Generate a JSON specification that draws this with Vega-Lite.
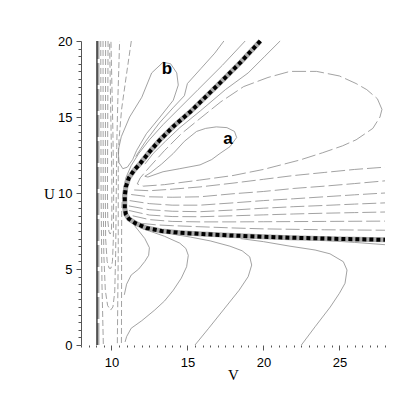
{
"$schema": "https://vega.github.io/schema/vega-lite/v6.json",
"width": 304, "height": 304,
"autosize": {"type": "none"},
"padding": {"left": 81, "top": 41, "right": 22, "bottom": 62},
"background": "white",
"config": {"view": {"stroke": null}},
"datasets": {
"vert": [{"id":"K","V":9.05,"U":0},{"id":"K","V":9.05,"U":20}],
"band": [{"id":"B","V":9.13,"U":0},{"id":"B","V":9.13,"U":20}],
"dash": [
{"id":"D1","V":9.3,"U":20},{"id":"D1","V":9.32,"U":10},{"id":"D1","V":9.38,"U":4},{"id":"D1","V":9.47,"U":0},
{"id":"U3","V":9.45,"U":20},{"id":"U3","V":9.46,"U":10},{"id":"U3","V":9.5,"U":6},{"id":"U3","V":9.6,"U":3.6},{"id":"U3","V":9.75,"U":2.6},{"id":"U3","V":9.95,"U":2.3},{"id":"U3","V":10.1,"U":2.5},{"id":"U3","V":10.22,"U":3.5},{"id":"U3","V":10.28,"U":6},{"id":"U3","V":10.32,"U":10},{"id":"U3","V":10.35,"U":13},{"id":"U3","V":10.42,"U":16},{"id":"U3","V":10.54,"U":20},
{"id":"UM","V":9.62,"U":20},{"id":"UM","V":9.6,"U":10},{"id":"UM","V":9.62,"U":7},{"id":"UM","V":9.72,"U":5.5},{"id":"UM","V":9.85,"U":5.05},{"id":"UM","V":9.97,"U":5.05},{"id":"UM","V":10.07,"U":5.5},{"id":"UM","V":10.13,"U":7},{"id":"UM","V":10.15,"U":10},{"id":"UM","V":10.1,"U":14},{"id":"UM","V":9.97,"U":20},
{"id":"UI","V":9.78,"U":20},{"id":"UI","V":9.74,"U":10},{"id":"UI","V":9.76,"U":8.2},{"id":"UI","V":9.84,"U":7.45},{"id":"UI","V":9.92,"U":7.3},{"id":"UI","V":10.0,"U":7.5},{"id":"UI","V":10.03,"U":8.5},{"id":"UI","V":10.03,"U":11},{"id":"UI","V":9.98,"U":14},{"id":"UI","V":9.88,"U":20},
{"id":"T11","V":11.31,"U":20},{"id":"T11","V":10.95,"U":17.5},{"id":"T11","V":10.67,"U":15.5},{"id":"T11","V":10.5,"U":13.5},{"id":"T11","V":10.45,"U":12},{"id":"T11","V":10.45,"U":10},{"id":"T11","V":10.45,"U":6},{"id":"T11","V":10.42,"U":3},{"id":"T11","V":10.39,"U":0},
{"id":"G1d","V":10.75,"U":10},{"id":"G1d","V":10.68,"U":9},{"id":"G1d","V":10.67,"U":7},{"id":"G1d","V":10.67,"U":4},{"id":"G1d","V":10.66,"U":0}
],
"thin": [
{"id":"b","V":13.4,"U":18.6},{"id":"b","V":12.65,"U":17.9},{"id":"b","V":12.0,"U":16.3},{"id":"b","V":11.2,"U":15.0},{"id":"b","V":10.65,"U":13.7},{"id":"b","V":10.45,"U":12.8},{"id":"b","V":10.5,"U":12.0},{"id":"b","V":10.75,"U":11.6},{"id":"b","V":11.05,"U":11.7},{"id":"b","V":11.4,"U":12.2},{"id":"b","V":11.66,"U":12.8},{"id":"b","V":12.3,"U":13.9},{"id":"b","V":13.2,"U":15.0},{"id":"b","V":14.07,"U":16.1},{"id":"b","V":14.4,"U":17.1},{"id":"b","V":14.3,"U":17.9},{"id":"b","V":13.9,"U":18.5},{"id":"b","V":13.4,"U":18.6},
{"id":"G1","V":18.8,"U":20},{"id":"G1","V":17.3,"U":18.4},{"id":"G1","V":15.7,"U":16.8},{"id":"G1","V":14.5,"U":15.6},{"id":"G1","V":13.4,"U":14.5},{"id":"G1","V":12.5,"U":13.5},{"id":"G1","V":11.8,"U":12.6},{"id":"G1","V":11.3,"U":11.8},{"id":"G1","V":10.95,"U":11.0},{"id":"G1","V":10.75,"U":10.0},
{"id":"G2","V":17.4,"U":20},{"id":"G2","V":16.8,"U":19.2},{"id":"G2","V":15.9,"U":18.2},{"id":"G2","V":15.0,"U":17.2},{"id":"G2","V":14.8,"U":16.4},{"id":"G2","V":14.05,"U":15.6},{"id":"G2","V":13.15,"U":14.6},{"id":"G2","V":12.25,"U":13.4},{"id":"G2","V":11.6,"U":12.4},
{"id":"a","V":18.24,"U":13.65},{"id":"a","V":18.1,"U":14.05},{"id":"a","V":17.6,"U":14.3},{"id":"a","V":16.9,"U":14.35},{"id":"a","V":16.2,"U":14.25},{"id":"a","V":15.6,"U":14.05},{"id":"a","V":14.8,"U":13.4},{"id":"a","V":14.07,"U":12.6},{"id":"a","V":13.3,"U":11.9},{"id":"a","V":12.6,"U":11.35},{"id":"a","V":12.2,"U":11.1},{"id":"a","V":12.4,"U":11.05},{"id":"a","V":13.4,"U":11.4},{"id":"a","V":14.5,"U":11.6},{"id":"a","V":15.83,"U":11.85},{"id":"a","V":16.6,"U":12.2},{"id":"a","V":17.14,"U":12.6},{"id":"a","V":17.8,"U":13.05},{"id":"a","V":18.24,"U":13.65},
{"id":"H1","V":21.1,"U":20},{"id":"H1","V":20.1,"U":19.0},{"id":"H1","V":19.0,"U":17.9},{"id":"H1","V":17.5,"U":16.8},{"id":"H1","V":15.85,"U":15.4},{"id":"H1","V":14.5,"U":14.3},{"id":"H1","V":13.55,"U":13.4},{"id":"H1","V":12.75,"U":12.6},{"id":"H1","V":12.2,"U":11.9},
{"id":"C2","V":11.0,"U":8.5},{"id":"C2","V":11.4,"U":8.0},{"id":"C2","V":11.75,"U":7.57},{"id":"C2","V":12.2,"U":7.0},{"id":"C2","V":12.5,"U":6.4},{"id":"C2","V":12.45,"U":5.9},{"id":"C2","V":12.2,"U":5.5},{"id":"C2","V":11.8,"U":5.0},{"id":"C2","V":11.3,"U":4.6},{"id":"C2","V":11.0,"U":4.0},{"id":"C2","V":10.85,"U":3.3},
{"id":"C1","V":10.9,"U":0.2},{"id":"C1","V":11.0,"U":0.55},{"id":"C1","V":11.3,"U":1.1},{"id":"C1","V":12.0,"U":1.6},{"id":"C1","V":12.85,"U":2.3},{"id":"C1","V":13.5,"U":2.9},{"id":"C1","V":14.07,"U":3.6},{"id":"C1","V":14.6,"U":4.4},{"id":"C1","V":14.95,"U":5.15},{"id":"C1","V":15.06,"U":5.9},{"id":"C1","V":14.9,"U":6.35},{"id":"C1","V":14.5,"U":6.7},{"id":"C1","V":13.5,"U":7.15},{"id":"C1","V":12.5,"U":7.5},{"id":"C1","V":11.9,"U":7.7},
{"id":"C3","V":15.5,"U":0},{"id":"C3","V":16.4,"U":1.1},{"id":"C3","V":17.36,"U":2.3},{"id":"C3","V":18.4,"U":3.6},{"id":"C3","V":19.0,"U":4.5},{"id":"C3","V":19.23,"U":5.26},{"id":"C3","V":19.1,"U":5.8},{"id":"C3","V":18.6,"U":6.2},{"id":"C3","V":17.8,"U":6.5},{"id":"C3","V":16.5,"U":6.85},{"id":"C3","V":15.2,"U":7.1},{"id":"C3","V":14.0,"U":7.3},
{"id":"C4","V":22.5,"U":0},{"id":"C4","V":23.4,"U":1.2},{"id":"C4","V":24.4,"U":2.5},{"id":"C4","V":25.0,"U":3.4},{"id":"C4","V":25.37,"U":4.06},{"id":"C4","V":25.5,"U":4.93},{"id":"C4","V":25.26,"U":5.48},{"id":"C4","V":24.38,"U":6.0},{"id":"C4","V":23.4,"U":6.25},{"id":"C4","V":21.75,"U":6.5},{"id":"C4","V":20.0,"U":6.8},{"id":"C4","V":18.5,"U":7.0},
{"id":"E1","V":28,"U":6.6},{"id":"E1","V":26,"U":6.75},{"id":"E1","V":24,"U":6.88},{"id":"E1","V":22,"U":6.98}
],
"long": [
{"id":"BL","V":27.8,"U":15.5},{"id":"BL","V":27.5,"U":16.2},{"id":"BL","V":26.8,"U":16.8},{"id":"BL","V":26.1,"U":17.2},{"id":"BL","V":25.0,"U":17.7},{"id":"BL","V":23.5,"U":18.0},{"id":"BL","V":21.75,"U":18.0},{"id":"BL","V":20.3,"U":17.6},{"id":"BL","V":18.7,"U":17.0},{"id":"BL","V":17.2,"U":16.0},{"id":"BL","V":15.83,"U":14.9},{"id":"BL","V":14.6,"U":13.9},{"id":"BL","V":13.5,"U":12.8},{"id":"BL","V":12.5,"U":11.7},{"id":"BL","V":11.9,"U":11.0},{"id":"BL","V":11.7,"U":10.6},{"id":"BL","V":12.1,"U":10.45},{"id":"BL","V":13.5,"U":10.55},{"id":"BL","V":15.8,"U":10.85},{"id":"BL","V":18.0,"U":11.15},{"id":"BL","V":20.0,"U":11.55},{"id":"BL","V":22.4,"U":12.17},{"id":"BL","V":23.9,"U":12.65},{"id":"BL","V":25.2,"U":13.1},{"id":"BL","V":26.1,"U":13.5},{"id":"BL","V":27.2,"U":14.25},{"id":"BL","V":27.67,"U":15.0},{"id":"BL","V":27.8,"U":15.5},
{"id":"L1","V":11.5,"U":10.2},{"id":"L1","V":12.5,"U":10.15},{"id":"L1","V":14,"U":10.25},{"id":"L1","V":15.83,"U":10.4},{"id":"L1","V":18,"U":10.65},{"id":"L1","V":20,"U":10.9},{"id":"L1","V":22,"U":11.15},{"id":"L1","V":24,"U":11.35},{"id":"L1","V":26,"U":11.55},{"id":"L1","V":28,"U":11.7},
{"id":"L2","V":11.3,"U":9.9},{"id":"L2","V":12.5,"U":9.75},{"id":"L2","V":14,"U":9.72},{"id":"L2","V":15.83,"U":9.75},{"id":"L2","V":18,"U":9.95},{"id":"L2","V":20,"U":10.1},{"id":"L2","V":22,"U":10.3},{"id":"L2","V":24,"U":10.45},{"id":"L2","V":26,"U":10.62},{"id":"L2","V":28,"U":10.8},
{"id":"L3","V":11.2,"U":9.5},{"id":"L3","V":12.5,"U":9.3},{"id":"L3","V":14,"U":9.2},{"id":"L3","V":15.83,"U":9.2},{"id":"L3","V":18,"U":9.35},{"id":"L3","V":20,"U":9.5},{"id":"L3","V":22,"U":9.62},{"id":"L3","V":24,"U":9.75},{"id":"L3","V":26,"U":9.88},{"id":"L3","V":28,"U":10.0},
{"id":"L4","V":11.15,"U":9.15},{"id":"L4","V":12.5,"U":8.9},{"id":"L4","V":14,"U":8.8},{"id":"L4","V":15.83,"U":8.77},{"id":"L4","V":18,"U":8.88},{"id":"L4","V":20,"U":9.0},{"id":"L4","V":22,"U":9.1},{"id":"L4","V":24,"U":9.18},{"id":"L4","V":26,"U":9.27},{"id":"L4","V":28,"U":9.35},
{"id":"L5","V":11.15,"U":8.85},{"id":"L5","V":12.5,"U":8.55},{"id":"L5","V":14,"U":8.45},{"id":"L5","V":15.83,"U":8.44},{"id":"L5","V":18,"U":8.5},{"id":"L5","V":20,"U":8.56},{"id":"L5","V":22,"U":8.62},{"id":"L5","V":24,"U":8.67},{"id":"L5","V":26,"U":8.71},{"id":"L5","V":28,"U":8.75},
{"id":"L6","V":11.4,"U":8.5},{"id":"L6","V":12.5,"U":8.25},{"id":"L6","V":14,"U":8.13},{"id":"L6","V":15.83,"U":8.1},{"id":"L6","V":18,"U":8.1},{"id":"L6","V":20,"U":8.11},{"id":"L6","V":24,"U":8.13},{"id":"L6","V":28,"U":8.15},
{"id":"L7","V":12.0,"U":8.0},{"id":"L7","V":13,"U":7.9},{"id":"L7","V":14,"U":7.85},{"id":"L7","V":15.83,"U":7.78},{"id":"L7","V":18,"U":7.7},{"id":"L7","V":20,"U":7.64},{"id":"L7","V":24,"U":7.58},{"id":"L7","V":28,"U":7.55}
],
"sep": [
{"V":19.8,"U":20},{"V":18.5,"U":18.6},{"V":17.1,"U":17.2},{"V":15.2,"U":15.35},{"V":14.1,"U":14.4},{"V":13.2,"U":13.5},{"V":12.5,"U":12.7},{"V":11.9,"U":11.95},{"V":11.5,"U":11.5},{"V":11.15,"U":11.0},{"V":10.95,"U":10.4},{"V":10.88,"U":9.8},{"V":10.88,"U":9.0},{"V":10.95,"U":8.6},{"V":11.15,"U":8.3},{"V":11.6,"U":8.0},{"V":12.3,"U":7.7},{"V":13.3,"U":7.5},{"V":14.5,"U":7.38},{"V":16,"U":7.3},{"V":18,"U":7.2},{"V":20,"U":7.12},{"V":21.75,"U":7.06},{"V":25,"U":6.98},{"V":28,"U":6.92}
],
"labels": [{"V":17.67,"U":13.55,"t":"a"},{"V":13.66,"U":18.16,"t":"b"}]
},
"encoding": {
"x": {"field": "V", "type": "quantitative", "scale": {"domain": [8, 28], "nice": false, "zero": false},
 "axis": {"title": "V", "values": [8,8.5,9,9.5,10,10.5,11,11.5,12,12.5,13,13.5,14,14.5,15,15.5,16,16.5,17,17.5,18,18.5,19,19.5,20,20.5,21,21.5,22,22.5,23,23.5,24,24.5,25,25.5,26,26.5,27,27.5,28],
 "labelExpr": "datum.value % 5 === 0 ? format(datum.value, 'd') : ''", "labelOverlap": false, "labelFlush": false,
 "tickSize": {"condition": {"test": "datum.value % 5 === 0", "value": 5}, "value": 2},
 "tickColor": "#555", "domain": false, "grid": false, "labelFont": "Liberation Sans", "labelFontSize": 13, "labelColor": "black", "labelPadding": 6,
 "titleFont": "Liberation Serif", "titleFontSize": 15, "titleFontWeight": "normal", "titleColor": "black", "titleY": 22, "titleBaseline": "top"}},
"y": {"field": "U", "type": "quantitative", "scale": {"domain": [0, 20], "nice": false, "zero": false},
 "axis": {"title": "U", "values": [0,0.5,1,1.5,2,2.5,3,3.5,4,4.5,5,5.5,6,6.5,7,7.5,8,8.5,9,9.5,10,10.5,11,11.5,12,12.5,13,13.5,14,14.5,15,15.5,16,16.5,17,17.5,18,18.5,19,19.5,20],
 "labelExpr": "datum.value % 5 === 0 ? format(datum.value, 'd') : ''", "labelOverlap": false, "labelFlush": false,
 "tickSize": {"condition": {"test": "datum.value % 5 === 0", "value": 5}, "value": 3},
 "tickColor": "#555", "domain": true, "domainColor": "#555", "grid": false, "labelFont": "Liberation Sans", "labelFontSize": 13, "labelColor": "black", "labelPadding": 4,
 "titleFont": "Liberation Serif", "titleFontSize": 15, "titleFontWeight": "normal", "titleColor": "black", "titleAngle": 0, "titleX": -32, "titleY": 152, "titleAlign": "center", "titleBaseline": "middle"}}
},
"layer": [
{"data": {"name": "band"}, "mark": {"type": "line", "color": "#a8a8a8", "strokeWidth": 2.5, "strokeDash": [22, 4]}, "encoding": {"detail": {"field": "id"}}},
{"data": {"name": "vert"}, "mark": {"type": "line", "color": "black", "strokeWidth": 1.1}, "encoding": {"detail": {"field": "id"}}},
{"data": {"name": "dash"}, "transform": [{"window": [{"op": "row_number", "as": "o"}]}], "mark": {"type": "line", "color": "#8a8a8a", "strokeWidth": 0.8, "strokeDash": [6, 3]}, "encoding": {"detail": {"field": "id"}, "order": {"field": "o"}}},
{"data": {"name": "thin"}, "transform": [{"window": [{"op": "row_number", "as": "o"}]}], "mark": {"type": "line", "color": "#8a8a8a", "strokeWidth": 0.8}, "encoding": {"detail": {"field": "id"}, "order": {"field": "o"}}},
{"data": {"name": "long"}, "transform": [{"window": [{"op": "row_number", "as": "o"}]}], "mark": {"type": "line", "color": "#8a8a8a", "strokeWidth": 0.8, "strokeDash": [14, 4]}, "encoding": {"detail": {"field": "id"}, "order": {"field": "o"}}},
{"data": {"name": "sep"}, "transform": [{"window": [{"op": "row_number", "as": "o"}]}], "mark": {"type": "line", "color": "#aaa", "strokeWidth": 5}, "encoding": {"order": {"field": "o"}}},
{"data": {"name": "sep"}, "transform": [{"window": [{"op": "row_number", "as": "o"}]}], "mark": {"type": "line", "color": "black", "strokeWidth": 4, "strokeDash": [4, 3], "strokeCap": "butt"}, "encoding": {"order": {"field": "o"}}},
{"data": {"values": [{"U": 20}]}, "mark": {"type": "rule", "color": "#777", "strokeWidth": 1}, "encoding": {"y": {"field": "U", "type": "quantitative"}}},
{"data": {"name": "labels"}, "mark": {"type": "text", "font": "Liberation Sans", "fontSize": 17, "fontWeight": "bold", "color": "black", "baseline": "middle", "align": "center"}, "encoding": {"text": {"field": "t"}}}
]
}
